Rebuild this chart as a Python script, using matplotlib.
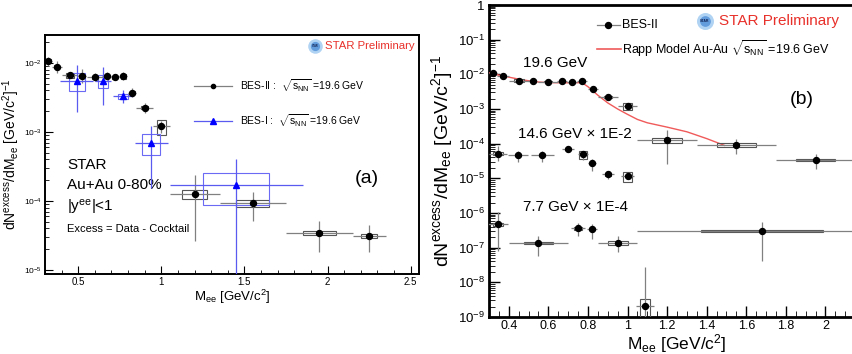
import numpy as np
import matplotlib.pyplot as plt
from matplotlib.patches import Rectangle
from matplotlib.ticker import LogLocator, MultipleLocator, NullFormatter

plt.rcParams['font.family'] = ['Liberation Sans', 'DejaVu Sans']
plt.rcParams['mathtext.fontset'] = 'custom'
plt.rcParams['mathtext.rm'] = 'Liberation Sans'
plt.rcParams['mathtext.it'] = 'Liberation Sans:italic'
plt.rcParams['mathtext.default'] = 'regular'

# BES-II 19.6 GeV
m196 = np.array([0.32, 0.37, 0.45, 0.52, 0.60, 0.67, 0.72, 0.77, 0.825, 0.90, 1.00, 1.20, 1.55, 1.95, 2.25])
y196 = np.array([1.08e-2, 8.8e-3, 6.6e-3, 6.4e-3, 6.2e-3, 6.4e-3, 6.2e-3, 6.4e-3, 3.7e-3, 2.25e-3, 1.21e-3,
                 1.25e-4, 9.2e-5, 3.4e-5, 3.1e-5])
lo196 = np.array([9.0e-3, 7.2e-3, 6.0e-3, 5.2e-3, 5.4e-3, 5.6e-3, 5.6e-3, 5.6e-3, 3.2e-3, 1.9e-3, 9.8e-4,
                  2.6e-5, 5.1e-5, 1.8e-5, 1.8e-5])
hi196 = np.array([1.24e-2, 1.08e-2, 7.3e-3, 8.1e-3, 7.1e-3, 7.4e-3, 6.9e-3, 7.4e-3, 4.3e-3, 2.6e-3, 1.45e-3,
                  2.4e-4, 1.35e-4, 5.1e-5, 4.4e-5])
xe196 = np.array([0.02, 0.03, 0.05, 0.025, 0.05, 0.025, 0.025, 0.025, 0.025, 0.05, 0.05, 0.15, 0.2, 0.2, 0.1])
sys196 = np.array([0.05, 0.05, 0.08, 0.05, 0.05, 0.05, 0.05, 0.08, 0.05, 0.05, 0.25, 0.15, 0.12, 0.06, 0.08])
sw196 = np.array([0.015, 0.015, 0.025, 0.015, 0.02, 0.015, 0.015, 0.015, 0.015, 0.02, 0.025, 0.075, 0.1, 0.1, 0.05])

# BES-I 19.6 GeV
m_b1 = np.array([0.49, 0.65, 0.77, 0.94, 1.45])
y_b1 = np.array([5.5e-3, 5.5e-3, 3.3e-3, 6.9e-4, 1.7e-4])
lo_b1 = np.array([1.95e-3, 2.5e-3, 2.6e-3, 1.55e-4, 1e-7])
hi_b1 = np.array([9.4e-3, 8.8e-3, 4.1e-3, 1.22e-3, 4.1e-4])
xe_b1 = np.array([0.1, 0.05, 0.06, 0.1, 0.4])
slo_b1 = np.array([3.9e-3, 4.3e-3, 3.0e-3, 4.6e-4, 8.8e-5])
shi_b1 = np.array([7.2e-3, 6.7e-3, 3.6e-3, 9.3e-4, 2.5e-4])
sw_b1 = np.array([0.048, 0.03, 0.03, 0.054, 0.2])

# 14.6 GeV x 1E-2
m146 = np.array([0.345, 0.445, 0.57, 0.70, 0.775, 0.82, 0.90, 1.00])
y146 = np.array([5.2e-5, 4.6e-5, 4.6e-5, 6.8e-5, 4.9e-5, 2.7e-5, 1.3e-5, 1.14e-5])
lo146 = np.array([3.1e-5, 2.9e-5, 2.9e-5, 5.8e-5, 3.3e-5, 1.6e-5, 9.5e-6, 9.5e-6])
hi146 = np.array([8.3e-5, 6.3e-5, 6.0e-5, 8.3e-5, 6.3e-5, 3.5e-5, 1.6e-5, 1.35e-5])
xe146 = np.array([0.045, 0.05, 0.06, 0.03, 0.025, 0.02, 0.03, 0.035])
sys146 = np.array([0.08, 0.06, 0.06, 0.06, 0.25, 0.06, 0.08, 0.3])
sw146 = np.array([0.025, 0.015, 0.015, 0.015, 0.02, 0.015, 0.015, 0.025])

# 7.7 GeV x 1E-4
m77 = np.array([0.345, 0.55, 0.75, 0.82, 0.95, 1.09, 1.68])
y77 = np.array([4.7e-7, 1.35e-7, 3.6e-7, 3.4e-7, 1.35e-7, 2.1e-9, 3.0e-7])
lo77 = np.array([8e-8, 5.6e-8, 2.1e-7, 1.75e-7, 7.4e-8, 1e-10, 4.1e-8])
hi77 = np.array([1.05e-6, 2.1e-7, 5.0e-7, 4.7e-7, 2.1e-7, 2.75e-8, 5.4e-7])
xe77 = np.array([0.05, 0.15, 0.035, 0.025, 0.1, 0.045, 0.63])
sys77 = np.array([0.13, 0.05, 0.1, 0.05, 0.13, 0.6, 0.06])
sw77 = np.array([0.025, 0.075, 0.018, 0.015, 0.05, 0.025, 0.31])

# Rapp model 19.6 GeV
m_rapp = np.array([0.30, 0.35, 0.40, 0.47, 0.55, 0.60, 0.70, 0.77, 0.80, 0.85, 0.90, 0.95, 1.00,
                   1.05, 1.10, 1.20, 1.30, 1.40, 1.49])
y_rapp = np.array([0.0111, 0.0095, 0.0083, 0.0069, 0.0060, 0.00575, 0.0057, 0.00575, 0.0044, 0.0025,
                   0.0015, 0.0010, 0.0007, 0.0005, 0.0004, 0.0003, 0.00022, 0.00014, 0.000089])


def draw_series(ax, m, y, lo, hi, xe, slo, shi, sw, col, ecol, bcol, mk, ms, lw):
    for xi, a, b, w in zip(m, slo, shi, sw):
        ax.add_patch(Rectangle((xi - w, a), 2 * w, b - a, fill=False, edgecolor=bcol, lw=0.8, zorder=3))
    ax.errorbar(m, y, yerr=[y - lo, hi - y], xerr=xe, fmt=mk, color=col, ms=ms, ecolor=ecol,
                elinewidth=lw, capsize=0, zorder=4)


def star_logo(ax, x, y, size):
    ax.scatter([x], [y], s=size, color='#9cc8f0', alpha=0.8, transform=ax.transAxes, zorder=5, lw=0)
    ax.scatter([x], [y], s=size * 0.4, color='#4f8fd8', alpha=0.8, transform=ax.transAxes, zorder=5, lw=0)
    ax.text(x, y, 'STAR', fontsize=size / 60, color='#102050', ha='center', va='center',
            transform=ax.transAxes, zorder=6, fontweight='bold')


fig = plt.figure(figsize=(8.53, 3.54), dpi=100)

# ---------- panel (a) ----------
ax1 = fig.add_axes([45 / 853, 80 / 354, 374 / 853, 239 / 354])
ax1.set_yscale('log')
ax1.set_xlim(0.3, 2.55)
ax1.set_ylim(8.7e-6, 0.0255)

draw_series(ax1, m196, y196, lo196, hi196, xe196, y196 * (1 - sys196), y196 * (1 + sys196), sw196,
            'black', '#808080', '#555555', 'o', 4.3, 0.9)
draw_series(ax1, m_b1, y_b1, lo_b1, hi_b1, xe_b1, slo_b1, shi_b1, sw_b1,
            '#0000ff', '#5a5af0', '#6a6af5', '^', 5, 0.9)

for s in ax1.spines.values():
    s.set_linewidth(1.4)
ax1.tick_params(which='both', direction='in', labelsize=7, pad=2)
ax1.tick_params(which='major', length=6)
ax1.tick_params(which='minor', length=3)
ax1.tick_params(axis='y', labelsize=6)
ax1.xaxis.set_minor_locator(MultipleLocator(0.1))
ax1.yaxis.set_major_locator(LogLocator(base=10))
ax1.yaxis.set_minor_locator(LogLocator(base=10, subs=np.arange(2, 10)))
ax1.yaxis.set_minor_formatter(NullFormatter())
ax1.set_xticks([0.5, 1, 1.5, 2, 2.5])
ax1.set_xticklabels(['0.5', '1', '1.5', '2', '2.5'])
ax1.set_xlabel(r'M$_{ee}$ [GeV/c$^{2}$]', fontsize=9.5, labelpad=1)
ax1.set_ylabel(r'dN$^{excess}$/dM$_{ee}$ [GeV/c$^{2}$]$^{-1}$', fontsize=10, labelpad=2)

ax1.plot([0.398, 0.5], [0.787, 0.787], color='#808080', lw=0.9, transform=ax1.transAxes)
ax1.plot([0.449], [0.787], 'o', color='black', ms=3, transform=ax1.transAxes)
ax1.text(0.521, 0.787, r'BES-II :  $\sqrt{s_{NN}}$ =19.6 GeV', fontsize=7.5, va='center',
         transform=ax1.transAxes)
ax1.plot([0.398, 0.5], [0.640, 0.640], color='#5a5af0', lw=0.9, transform=ax1.transAxes)
ax1.plot([0.449], [0.640], '^', color='#0000ff', ms=4.5, transform=ax1.transAxes)
ax1.text(0.521, 0.640, r'BES-I :  $\sqrt{s_{NN}}$ =19.6 GeV', fontsize=7.5, va='center',
         transform=ax1.transAxes)

star_logo(ax1, 0.722, 0.954, 110)
ax1.text(0.748, 0.954, 'STAR Preliminary', color='#e8302a', fontsize=8.2, va='center', transform=ax1.transAxes)
ax1.text(0.861, 0.40, '(a)', fontsize=14, ha='center', va='center', transform=ax1.transAxes)
ax1.text(0.06, 0.456, 'STAR', fontsize=11, va='center', transform=ax1.transAxes)
ax1.text(0.06, 0.372, 'Au+Au 0-80%', fontsize=11, va='center', transform=ax1.transAxes)
ax1.text(0.06, 0.28, r'|y$^{ee}$|<1', fontsize=11, va='center', transform=ax1.transAxes)
ax1.text(0.06, 0.188, 'Excess = Data - Cocktail', fontsize=8, va='center', transform=ax1.transAxes)

# ---------- panel (b) ----------
ax2 = fig.add_axes([489 / 853, 37 / 354, 376 / 853, 312 / 354])
ax2.set_yscale('log')
ax2.set_xlim(0.3, 2.2)
ax2.set_ylim(1e-9, 1)

ax2.plot(m_rapp, y_rapp, color='#f05a5a', lw=1.0, zorder=3)
draw_series(ax2, m196, y196, lo196, hi196, xe196, y196 * (1 - sys196), y196 * (1 + sys196), sw196,
            'black', '#808080', '#555555', 'o', 4.3, 0.9)
draw_series(ax2, m146, y146, lo146, hi146, xe146, y146 * (1 - sys146), y146 * (1 + sys146), sw146,
            'black', '#808080', '#555555', 'o', 4.3, 0.9)
draw_series(ax2, m77, y77, lo77, hi77, xe77, y77 * (1 - sys77), y77 * (1 + sys77), sw77,
            'black', '#808080', '#555555', 'o', 4.3, 0.9)

ax2.spines['right'].set_visible(False)
for s in ['left', 'bottom', 'top']:
    ax2.spines[s].set_linewidth(2)
ax2.tick_params(which='both', direction='in', labelsize=9.5, pad=3, right=False)
ax2.tick_params(axis='x', labelsize=9, pad=2)
ax2.tick_params(which='major', length=8, width=1)
ax2.tick_params(which='minor', length=4)
ax2.xaxis.set_minor_locator(MultipleLocator(0.05))
ax2.yaxis.set_minor_locator(LogLocator(base=10, subs=np.arange(2, 10), numticks=12))
ax2.yaxis.set_minor_formatter(NullFormatter())
xt = [0.4, 0.6, 0.8, 1.0, 1.2, 1.4, 1.6, 1.8, 2.0]
ax2.set_xticks(xt)
ax2.set_xticklabels(['0.4', '0.6', '0.8', '1', '1.2', '1.4', '1.6', '1.8', '2'])
yt = [1e-9, 1e-8, 1e-7, 1e-6, 1e-5, 1e-4, 1e-3, 1e-2, 1e-1, 1]
ax2.set_yticks(yt)
ax2.set_yticklabels([r'10$^{-%d}$' % k for k in range(9, 0, -1)] + ['1'])
ax2.set_xlabel(r'M$_{ee}$ [GeV/c$^{2}$]', fontsize=12.5, labelpad=0)
ax2.set_ylabel(r'dN$^{excess}$/dM$_{ee}$ [GeV/c$^{2}$]$^{-1}$', fontsize=14, labelpad=2)

ax2.plot([0.287, 0.348], [0.936, 0.936], color='#808080', lw=0.9, transform=ax2.transAxes)
ax2.plot([0.316], [0.936], 'o', color='black', ms=4.3, transform=ax2.transAxes)
ax2.text(0.355, 0.936, 'BES-II', fontsize=9, va='center', transform=ax2.transAxes)
ax2.plot([0.287, 0.35], [0.859, 0.859], color='#f05a5a', lw=1.2, transform=ax2.transAxes)
ax2.text(0.355, 0.859, r'Rapp Model Au-Au $\sqrt{s_{NN}}$ =19.6 GeV', fontsize=9, va='center',
         transform=ax2.transAxes)

star_logo(ax2, 0.574, 0.949, 150)
ax2.text(0.612, 0.949, 'STAR Preliminary', color='#e8302a', fontsize=11, va='center', transform=ax2.transAxes)
ax2.text(0.832, 0.696, '(b)', fontsize=14, ha='center', va='center', transform=ax2.transAxes)
ax2.text(0.09, 0.815, '19.6 GeV', fontsize=11, va='center', transform=ax2.transAxes)
ax2.text(0.077, 0.585, '14.6 GeV × 1E-2', fontsize=11, va='center', transform=ax2.transAxes)
ax2.text(0.09, 0.351, '7.7 GeV × 1E-4', fontsize=11, va='center', transform=ax2.transAxes)

fig.savefig('out.png', dpi=100)
